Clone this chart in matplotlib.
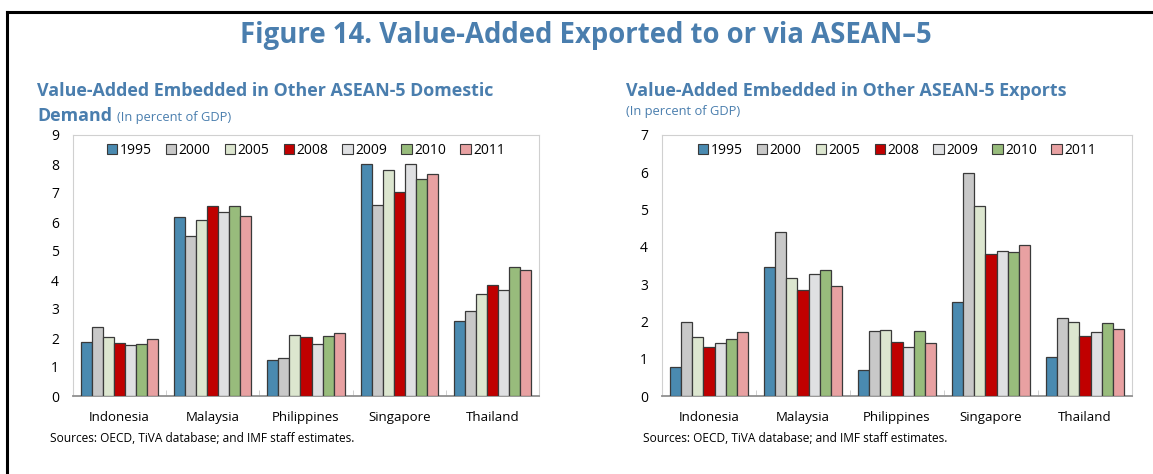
import numpy as np
import matplotlib
matplotlib.use("Agg")
import matplotlib.pyplot as plt
from matplotlib.patches import Patch
from matplotlib.lines import Line2D

plt.rcParams['font.family'] = ['Open Sans', 'DejaVu Sans']

countries = ["Indonesia", "Malaysia", "Philippines", "Singapore", "Thailand"]
years = ["1995", "2000", "2005", "2008", "2009", "2010", "2011"]
colors = ["#4A8AB0", "#C8C8C8", "#DCE6CF", "#C00000", "#DFE0E2", "#98BC7C", "#E8A1A2"]

# domestic demand (in percent of GDP), rows = countries, cols = years
domestic = [
    [1.86, 2.38, 2.05, 1.83, 1.77, 1.80, 1.96],
    [6.18, 5.52, 6.06, 6.56, 6.33, 6.56, 6.20],
    [1.25, 1.30, 2.09, 2.05, 1.80, 2.07, 2.17],
    [7.99, 6.57, 7.79, 7.05, 8.01, 7.49, 7.64],
    [2.59, 2.92, 3.52, 3.84, 3.64, 4.45, 4.35],
]
# exports (in percent of GDP)
exports = [
    [0.78, 1.99, 1.58, 1.32, 1.42, 1.52, 1.71],
    [3.45, 4.41, 3.17, 2.85, 3.26, 3.38, 2.95],
    [0.70, 1.73, 1.77, 1.46, 1.31, 1.73, 1.43],
    [2.52, 5.99, 5.09, 3.80, 3.88, 3.86, 4.04],
    [1.05, 2.08, 1.99, 1.61, 1.72, 1.97, 1.80],
]

blue = "#4A7EAE"
W, H = 1153, 474
fig = plt.figure(figsize=(W / 100, H / 100), dpi=100)

# black frame (left + top)
fig.add_artist(Line2D([7 / W, 7 / W], [0, 1 - 12 / H], color="black", lw=2.2))
fig.add_artist(Line2D([7 / W, 1], [1 - 12 / H, 1 - 12 / H], color="black", lw=2.2))

fig.text(0.508, 1 - 36 / H, "Figure 14. Value-Added Exported to or via ASEAN\u20135",
         ha="center", va="center", fontsize=19.8, fontweight="bold", color=blue)


def draw(ax, data, ymax):
    data = np.array(data)
    n = len(years)
    bw = 0.83 / n
    x = np.arange(len(countries))
    for j in range(n):
        ax.bar(x - 0.415 + bw * (j + 0.5), data[:, j], width=bw, color=colors[j],
               edgecolor="#3a3a3a", linewidth=0.9, label=years[j], zorder=3)
    ax.set_xlim(-0.5, len(countries) - 0.5)
    ax.set_ylim(0, ymax)
    ax.set_yticks(range(ymax + 1))
    ax.set_xticks(x)
    ax.set_xticklabels(countries)
    ax.set_xticks(np.arange(len(countries) + 1) - 0.5, minor=True)
    ax.tick_params(axis="x", which="major", length=0, pad=11, labelsize=9.5)
    ax.tick_params(axis="x", which="minor", direction="in", length=4, color="#c8c8c8")
    ax.tick_params(axis="y", length=0, pad=10, labelsize=10)
    for s in ["top", "right", "left"]:
        ax.spines[s].set_color("#d0d0d0")
    ax.spines["bottom"].set_color("#909090")
    ax.spines["bottom"].set_linewidth(1.3)
    handles = [Patch(facecolor=c, edgecolor="#3a3a3a", linewidth=0.8) for c in colors]
    ax.legend(handles, years, ncol=n, loc="upper center", bbox_to_anchor=(0.5, 1.0),
              frameon=False, fontsize=10, handlelength=0.75, handleheight=0.75,
              handletextpad=0.2, columnspacing=1.0, borderaxespad=0.15)


ax1 = fig.add_axes([73 / W, 1 - 396 / H, (539 - 73) / W, (396 - 135) / H])
draw(ax1, domestic, 9)
ax2 = fig.add_axes([662 / W, 1 - 396 / H, (1132 - 662) / W, (396 - 135) / H])
draw(ax2, exports, 7)

fig.text(37 / W, 1 - 91 / H, "Value-Added Embedded in Other ASEAN-5 Domestic",
         ha="left", va="center", fontsize=12.9, fontweight="bold", color=blue)
fig.text(37 / W, 1 - 116 / H, "Demand", ha="left", va="center",
         fontsize=12.9, fontweight="bold", color=blue)
fig.text(117 / W, 1 - 117 / H, "(In percent of GDP)", ha="left", va="center",
         fontsize=9.3, color=blue)

fig.text(626 / W, 1 - 91 / H, "Value-Added Embedded in Other ASEAN-5 Exports",
         ha="left", va="center", fontsize=12.9, fontweight="bold", color=blue)
fig.text(626 / W, 1 - 111 / H, "(In percent of GDP)", ha="left", va="center",
         fontsize=9.3, color=blue)

src = "Sources: OECD, TiVA database; and IMF staff estimates."
fig.text(50 / W, 1 - 439 / H, src, ha="left", va="center", fontsize=8.6, color="black")
fig.text(643 / W, 1 - 439 / H, src, ha="left", va="center", fontsize=8.6, color="black")

fig.savefig("out.png", dpi=100)
